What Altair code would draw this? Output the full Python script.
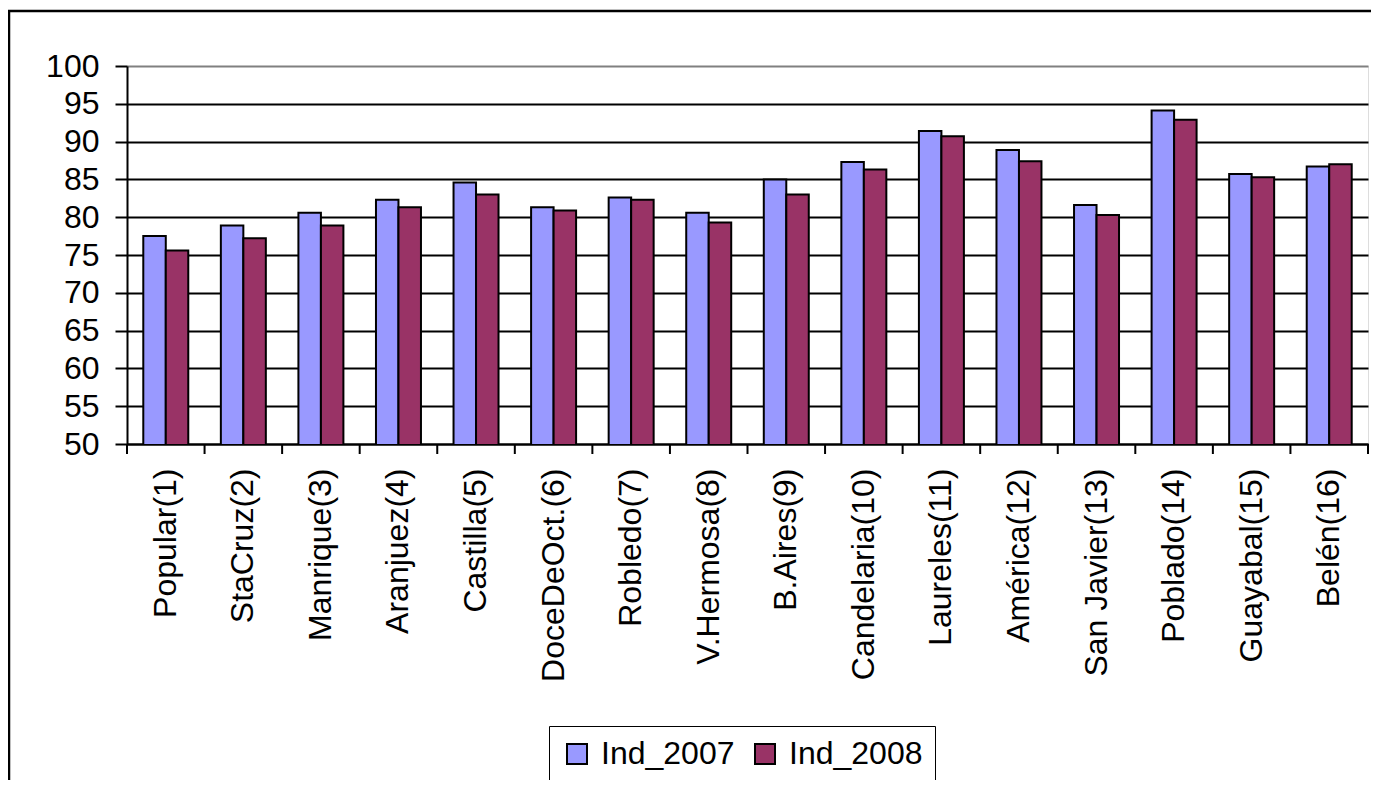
import altair as alt
import pandas as pd

categories = ["Popular(1)", "StaCruz(2)", "Manrique(3)", "Aranjuez(4)", "Castilla(5)",
              "DoceDeOct.(6)", "Robledo(7)", "V.Hermosa(8)", "B.Aires(9)", "Candelaria(10)",
              "Laureles(11)", "América(12)", "San Javier(13)", "Poblado(14)", "Guayabal(15)",
              "Belén(16)"]
ind_2007 = [77.5, 78.9, 80.6, 82.3, 84.6, 81.3, 82.6, 80.6, 85.0, 87.3,
            91.4, 88.9, 81.6, 94.1, 85.7, 86.7]
ind_2008 = [75.6, 77.2, 78.9, 81.3, 83.0, 80.9, 82.3, 79.3, 83.0, 86.3,
            90.7, 87.4, 80.3, 92.9, 85.3, 87.0]
series = ["Ind_2007", "Ind_2008"]
colors = ["#9999FF", "#993366"]
y_ticks = list(range(50, 101, 5))
boundaries = list(range(0, len(categories) + 1))

rows = []
for i, c in enumerate(categories):
    rows.append({"cat": c, "serie": series[0], "value": ind_2007[i]})
    rows.append({"cat": c, "serie": series[1], "value": ind_2008[i]})
df = pd.DataFrame(rows)

FONT = "Liberation Sans"
FS = 32
W, H = 1241, 378

bars = alt.Chart(df).mark_bar(stroke="black", strokeWidth=2, clip=True).encode(
    x=alt.X("cat:N", sort=categories, title=None,
            scale=alt.Scale(paddingInner=0.42, paddingOuter=0.21),
            axis=alt.Axis(labelAngle=-90, labelFontSize=FS, labelFont=FONT, labelColor="black",
                          labelPadding=24, labelLimit=400, ticks=False,
                          domainColor="black", domainWidth=2, grid=False)),
    xOffset=alt.XOffset("serie:N", sort=series, scale=alt.Scale(paddingInner=0, paddingOuter=0)),
    y=alt.Y("value:Q", title=None,
            scale=alt.Scale(domain=[50, 100], nice=False, zero=False),
            axis=alt.Axis(values=y_ticks, labelFontSize=FS, labelFont=FONT, labelColor="black",
                          labelPadding=16, tickSize=12, tickWidth=2, tickColor="black",
                          domainColor="black", domainWidth=2, grid=True,
                          gridColor=alt.condition("datum.value == 100", alt.value("#808080"), alt.value("black")),
                          gridWidth=2)),
    color=alt.Color("serie:N", sort=series, scale=alt.Scale(domain=series, range=colors),
                    legend=alt.Legend(title=None, orient="none", legendX=422, legendY=660,
                                      direction="horizontal", strokeColor="black",
                                      fillColor="white", padding=12, symbolType="square",
                                      symbolSize=400, symbolStrokeColor="black",
                                      symbolStrokeWidth=2, labelFontSize=FS, labelFont=FONT,
                                      labelColor="black", columnPadding=14, labelOffset=8)),
)

ticks = alt.Chart(pd.DataFrame({"b": boundaries})).mark_rule(color="black", strokeWidth=2).encode(
    x=alt.X("b:Q", scale=alt.Scale(domain=[0, len(categories)], nice=False, zero=False), axis=None),
    y=alt.value(H), y2=alt.value(H + 10),
)

frame = alt.Chart(alt.Data(values=[{"a": 1}])).mark_rect(
    fill="transparent", stroke="black", strokeWidth=2.5
).encode(x=alt.value(-118), y=alt.value(-55), x2=alt.value(2000), y2=alt.value(2000))

chart = alt.layer(bars, ticks, frame).resolve_scale(x="independent").properties(
    width=W, height=H,
    autosize=alt.AutoSizeParams(type="none"),
    padding={"left": 119, "top": 58, "right": 3, "bottom": 336},
).configure_view(stroke="#808080", strokeWidth=2).configure(background="white")

chart.save("out.html", embed_options={"renderer": "svg", "actions": False})
